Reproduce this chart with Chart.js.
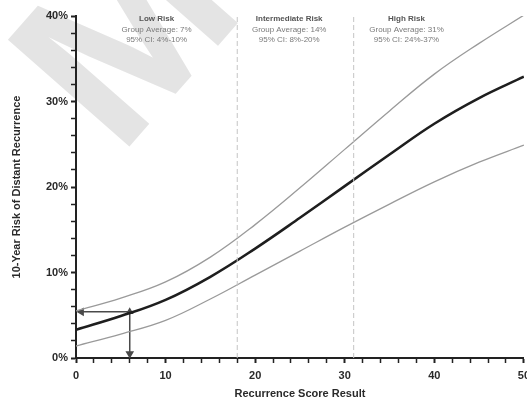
<!DOCTYPE html>
<html>
<head>
<meta charset="utf-8">
<script src="https://cdn.jsdelivr.net/npm/chart.js@4.4.0/dist/chart.umd.min.js"></script>
<style>
  html, body { margin: 0; padding: 0; background: #fff; overflow: hidden; }
  #wrap { width: 527px; height: 405px; overflow: hidden; }
</style>
</head>
<body>
<div id="wrap"><canvas id="chart" width="536" height="405"></canvas></div>
<script>
// curve values
const scores = [0, 5, 10, 15, 20, 25, 30, 35, 40, 45, 50];
const riskMid = [3.3, 4.9, 6.8, 9.5, 12.8, 16.4, 20.1, 23.8, 27.4, 30.4, 32.9];
const riskUpper = [5.5, 7.0, 8.9, 11.8, 15.6, 19.9, 24.4, 28.9, 33.2, 36.8, 40.1];
const riskLower = [1.4, 2.8, 4.4, 6.9, 9.7, 12.5, 15.3, 18.0, 20.6, 22.9, 24.9];

// example patient
const exampleScore = 6;
const exampleRisk = 5.4;

// risk group cut-offs and texts
const cutoffs = [18, 31];
const groupNames = ['Low Risk', 'Intermediate Risk', 'High Risk'];
const groupAvg = [7, 14, 31];
const groupCiLow = [4, 8, 24];
const groupCiHigh = [10, 20, 37];
const groupTextAt = [9, 23.8, 36.9];

const toPoints = (ys) => scores.map((s, i) => ({ x: s, y: ys[i] }));

const cutoffSets = cutoffs.map(c => ({
  data: [{ x: c, y: 0 }, { x: c, y: 40 }],
  borderColor: '#c4c4c4',
  borderWidth: 1,
  borderDash: [5, 3],
  pointRadius: 0
}));

// big grey watermark behind the chart
const watermark = {
  id: 'watermark',
  beforeDraw(chart) {
    const ctx = chart.ctx;
    ctx.save();
    ctx.translate(135, 42);
    ctx.rotate(-0.85);
    ctx.font = 'bold 235px "Liberation Sans"';
    ctx.fillStyle = '#e4e4e4';
    ctx.textAlign = 'center';
    ctx.textBaseline = 'middle';
    ctx.fillText('M', 0, 0);
    ctx.restore();
  }
};

// group labels at top of the plot
const groupLabels = {
  id: 'groupLabels',
  afterDatasetsDraw(chart) {
    const ctx = chart.ctx;
    const xs = chart.scales.x;
    const top = chart.chartArea.top;
    ctx.save();
    ctx.textAlign = 'center';
    ctx.textBaseline = 'middle';
    groupNames.forEach((name, i) => {
      const px = xs.getPixelForValue(groupTextAt[i]);
      ctx.fillStyle = '#555';
      ctx.font = 'bold 8px "Liberation Sans"';
      ctx.fillText(name, px, top + 3);
      ctx.fillStyle = '#7a7a7a';
      ctx.font = '8px "Liberation Sans"';
      ctx.fillText('Group Average: ' + groupAvg[i] + '%', px, top + 14);
      ctx.fillText('95% CI: ' + groupCiLow[i] + '%-' + groupCiHigh[i] + '%', px, top + 24);
    });
    ctx.restore();
  }
};

new Chart(document.getElementById('chart'), {
  type: 'line',
  data: {
    datasets: [
      ...cutoffSets,
      {
        data: toPoints(riskUpper),
        borderColor: '#9a9a9a',
        borderWidth: 1.3,
        pointRadius: 0,
        tension: 0.4
      },
      {
        data: toPoints(riskLower),
        borderColor: '#9a9a9a',
        borderWidth: 1.3,
        pointRadius: 0,
        tension: 0.4
      },
      {
        data: toPoints(riskMid),
        borderColor: '#1e1e1e',
        borderWidth: 2.6,
        pointRadius: 0,
        tension: 0.4
      },
      {
        // arrow to the y axis
        data: [{ x: exampleScore, y: exampleRisk }, { x: 0.6, y: exampleRisk }],
        borderColor: '#4a4a4a',
        borderWidth: 1.5,
        pointStyle: 'triangle',
        pointRadius: [0, 3.5],
        pointRotation: -90,
        pointBackgroundColor: '#4a4a4a',
        pointBorderColor: '#4a4a4a'
      },
      {
        // arrow to the x axis
        data: [{ x: exampleScore, y: exampleRisk }, { x: exampleScore, y: 0.5 }],
        borderColor: '#4a4a4a',
        borderWidth: 1.5,
        pointStyle: 'triangle',
        pointRadius: [3, 3.5],
        pointRotation: [0, 180],
        pointBackgroundColor: '#4a4a4a',
        pointBorderColor: '#4a4a4a'
      }
    ]
  },
  options: {
    responsive: false,
    animation: false,
    layout: { padding: { top: 16, right: 10, left: 0, bottom: 0 } },
    plugins: {
      legend: { display: false },
      tooltip: { enabled: false }
    },
    scales: {
      x: {
        type: 'linear',
        min: 0,
        max: 50,
        afterFit: (s) => { s.height = 47; },
        ticks: {
          stepSize: 2,
          autoSkip: false,
          maxRotation: 0,
          padding: 6,
          color: '#2a2a2a',
          font: { family: 'Liberation Sans', size: 11, weight: 'bold' },
          callback: (v) => (v % 10 === 0 ? String(v) : '')
        },
        grid: {
          drawOnChartArea: false,
          drawTicks: true,
          tickLength: 5,
          tickColor: '#222',
          tickWidth: (c) => (c.tick && c.tick.value % 10 === 0 ? 2 : 1.5)
        },
        border: { color: '#222', width: 2 },
        title: {
          display: true,
          text: 'Recurrence Score Result',
          color: '#2a2a2a',
          font: { family: 'Liberation Sans', size: 11, weight: 'bold' },
          padding: { top: 2, bottom: 4 }
        }
      },
      y: {
        min: 0,
        max: 40,
        afterFit: (s) => { s.width = 76; },
        ticks: {
          stepSize: 2,
          autoSkip: false,
          padding: 3,
          color: '#2a2a2a',
          font: { family: 'Liberation Sans', size: 11, weight: 'bold' },
          callback: (v) => (v % 10 === 0 ? v + '%' : '')
        },
        grid: {
          drawOnChartArea: false,
          drawTicks: true,
          tickLength: 5,
          tickColor: '#222',
          tickWidth: (c) => (c.tick && c.tick.value % 10 === 0 ? 2 : 1.5)
        },
        border: { color: '#222', width: 2 },
        title: {
          display: true,
          text: '10-Year Risk of Distant Recurrence',
          color: '#2a2a2a',
          font: { family: 'Liberation Sans', size: 11, weight: 'bold' },
          padding: { top: 10, bottom: 4 }
        }
      }
    }
  },
  plugins: [watermark, groupLabels]
});
</script>
</body>
</html>
